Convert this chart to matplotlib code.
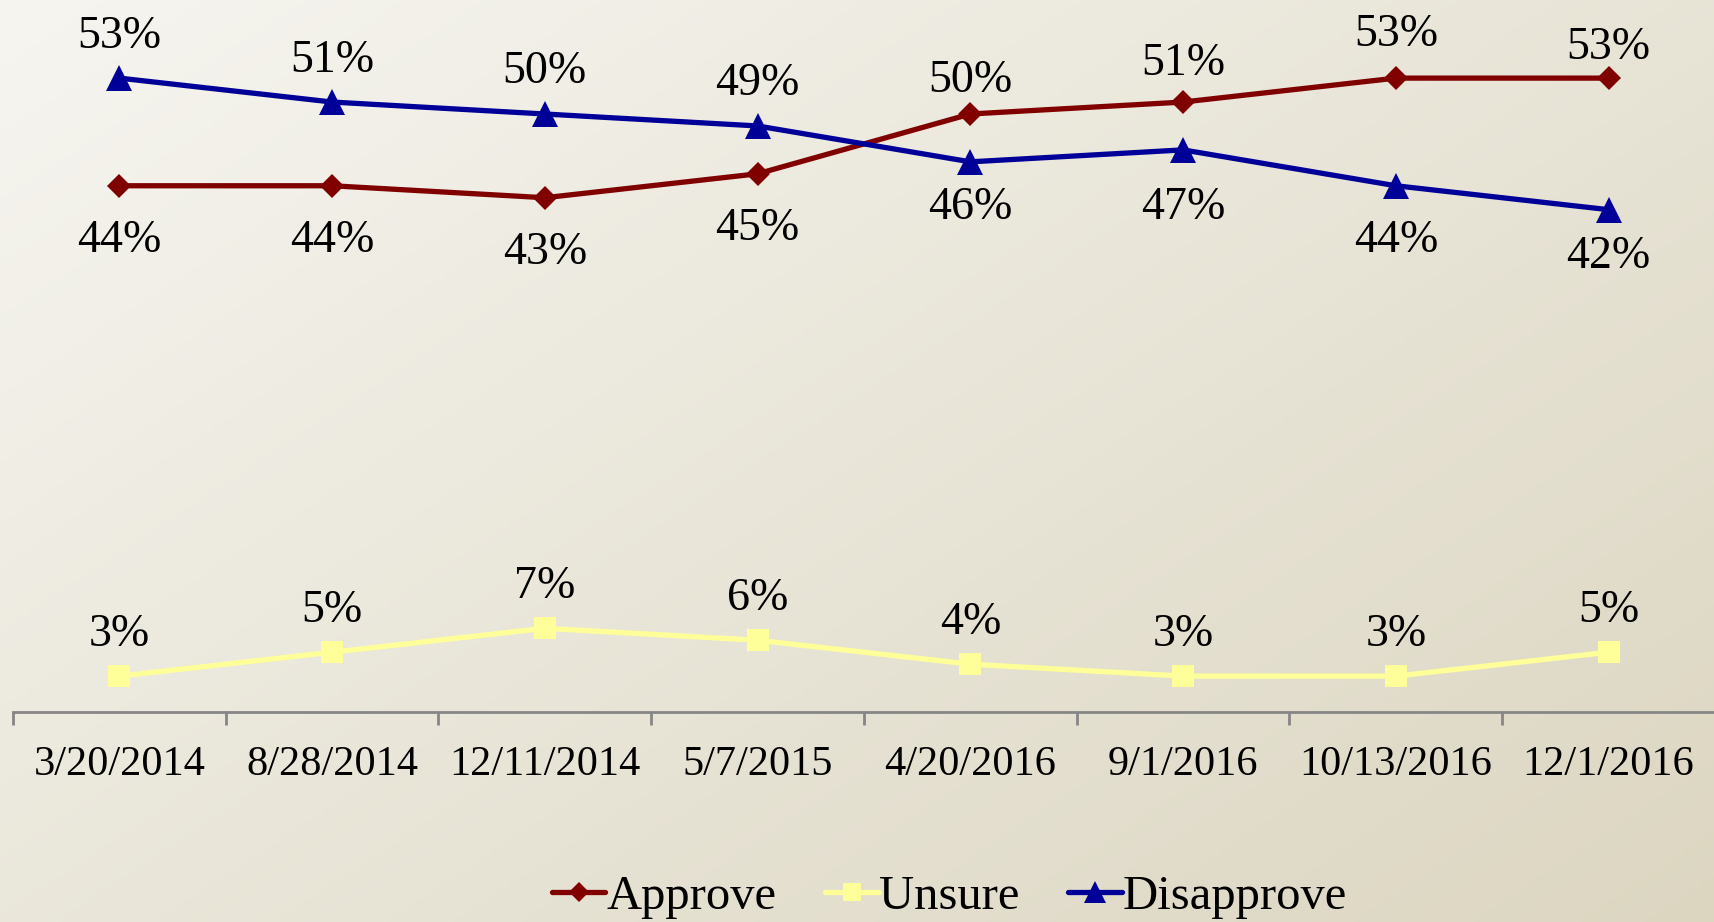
import numpy as np
import matplotlib
matplotlib.use("Agg")
import matplotlib.pyplot as plt

plt.rcParams['font.family'] = ['Liberation Serif', 'DejaVu Serif']

dates = ['3/20/2014', '8/28/2014', '12/11/2014', '5/7/2015',
         '4/20/2016', '9/1/2016', '10/13/2016', '12/1/2016']
approve = [44, 44, 43, 45, 50, 51, 53, 53]
unsure = [3, 5, 7, 6, 4, 3, 3, 5]
disapprove = [53, 51, 50, 49, 46, 47, 44, 42]

# label centre offsets from the point, in pixels (negative = above)
approve_dy = [51, 51, 51, 51, -37, -42, -47, -34]
unsure_dy = [-45] * 8
disapprove_dy = [-45, -45, -46, -46, 42, 54, 51, 43]

W, H = 1715, 922
fig = plt.figure(figsize=(W / 100, H / 100), dpi=100)

# background gradient
bg = fig.add_axes([0, 0, 1, 1], zorder=-10)
yy, xx = np.mgrid[0:1:200j, 0:1:400j]
t = np.clip(0.55 * xx + 0.45 * yy, 0, 1)[..., None]
c0 = np.array([246, 245, 240]) / 255
c1 = np.array([220, 214, 193]) / 255
bg.imshow(c0 * (1 - t) + c1 * t, aspect='auto', extent=[0, 1, 0, 1])
bg.axis('off')

ax = fig.add_axes([13 / W, 1 - 712 / H, (W - 13) / W, 712 / H])
ax.patch.set_alpha(0)
x = np.arange(len(dates))

series = [
    ('Approve', approve, approve_dy, '#800000', 'D', 12.5),
    ('Unsure', unsure, unsure_dy, '#FFFF99', 's', 15.5),
    ('Disapprove', disapprove, disapprove_dy, '#000099', '^', 19),
]
for name, vals, dys, col, mk, ms in series:
    ax.plot(x, vals, color=col, lw=3.8, marker=mk, markersize=ms,
            markeredgewidth=0, label=name, solid_capstyle='round')
    for xi, v, dy in zip(x, vals, dys):
        ax.annotate(f'{v}%', (xi, v), xytext=(0, -(dy + 15) * 0.72),
                    textcoords='offset points', ha='center', va='baseline',
                    fontsize=33, color='black')

ax.set_xlim(-0.5, len(dates) - 0.5)
ax.set_ylim(0, 712 / 11.96)
ax.set_yticks([])
for s in ['top', 'right', 'left']:
    ax.spines[s].set_visible(False)
ax.spines['bottom'].set_color('#868686')
ax.spines['bottom'].set_linewidth(2)

ax.set_xticks(np.arange(len(dates) + 1) - 0.5)
ax.set_xticklabels([])
ax.tick_params(axis='x', which='major', length=9, width=2, color='#868686',
               direction='out')
ax.set_xticks(x, minor=True)
ax.set_xticklabels(dates, minor=True, fontsize=30.5)
ax.tick_params(axis='x', which='minor', length=0, pad=24)

leg = fig.legend(loc='center left', bbox_to_anchor=(552 / W, 1 - 897 / H),
                 ncol=3, frameon=False, fontsize=35, handlelength=1.1,
                 handletextpad=0.02, columnspacing=1.0, borderaxespad=0,
                 borderpad=0, markerscale=0.85)

fig.savefig('out.png', dpi=100)
